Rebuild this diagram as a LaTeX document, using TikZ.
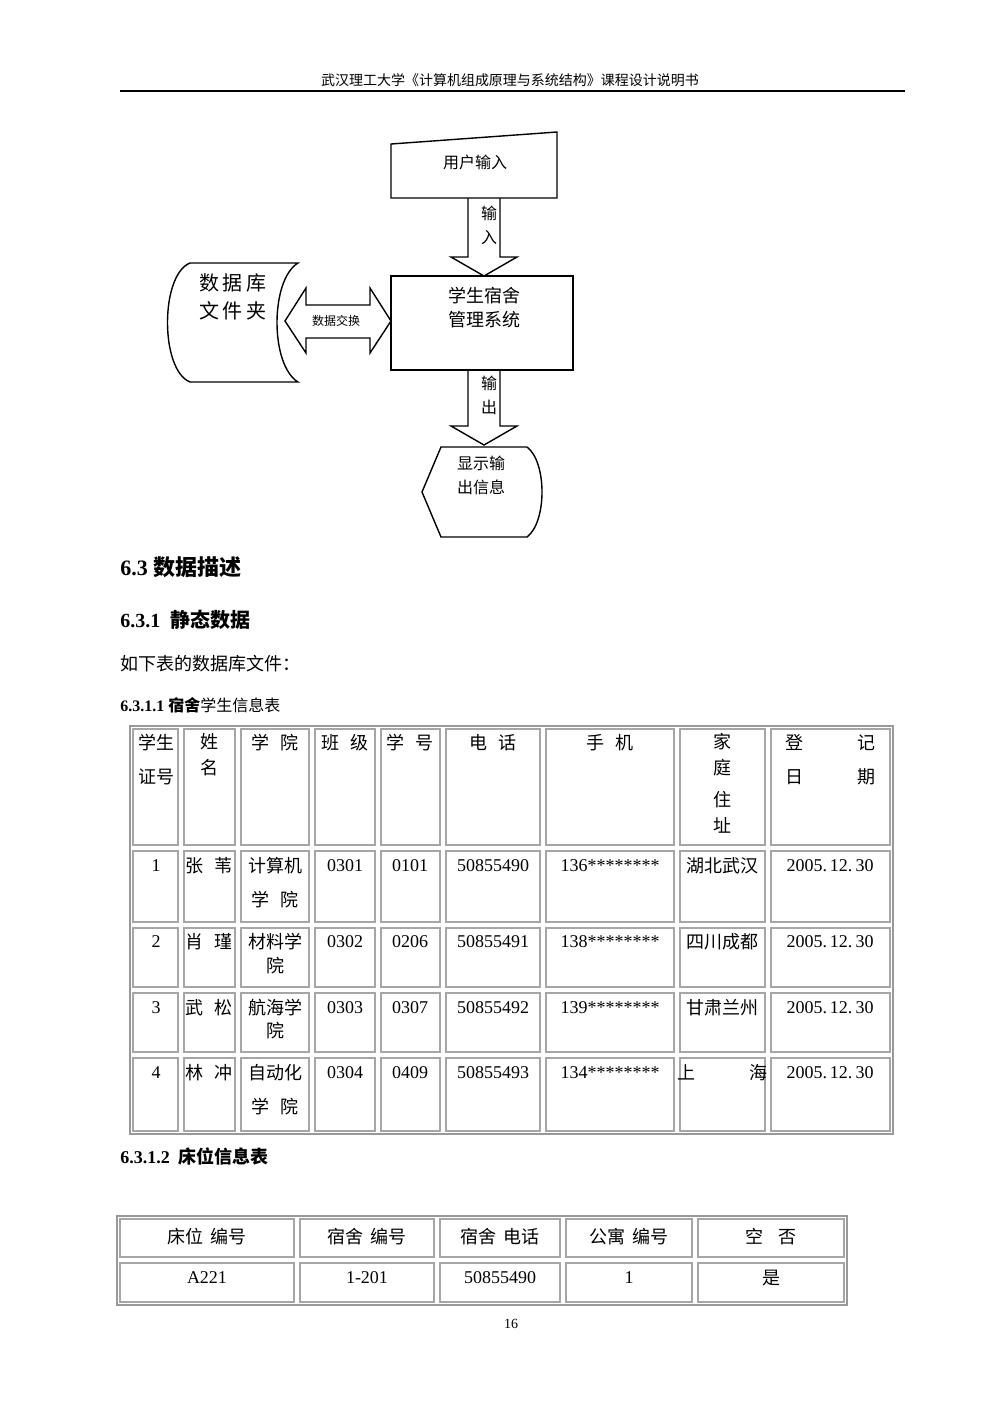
\documentclass[tikz,border=0pt]{standalone}
\usepackage{fontspec}
\setmainfont{Liberation Serif}
\newfontfamily\cjk{Noto Sans CJK SC}
\begin{document}
\begin{tikzpicture}[x=0.5pt,y=-0.5pt,
  shp/.style={draw,line width=0.7pt,line join=miter},
  tx/.style={font=\fontsize{8}{10}\selectfont\cjk,inner sep=0pt},
  tb/.style={font=\fontsize{9}{11}\selectfont\cjk,inner sep=0pt},
  tn/.style={font=\fontsize{9}{11}\selectfont,inner sep=0pt},
  frame/.style={draw=gray!80,line width=1.4pt},
  cell/.style={draw=gray!70,line width=0.6pt}]
\useasboundingbox (0,0) rectangle (1000,1415);
% header
\node[font=\fontsize{7}{9}\selectfont\cjk,inner sep=0pt] (hdr) at (510,80) {武汉理工大学《计算机组成原理与系统结构》课程设计说明书};
\draw[line width=0.8pt] (120,91) -- (905,91);
% flowchart
\draw[shp] (391,144) -- (557,132) -- (557,198) -- (391,198) -- cycle;
\node[tx] (ui) at (475,162) {用户输入};
\draw[shp] (391,276) rectangle (573,370);
\node[tx,font=\fontsize{9}{11}\selectfont\cjk,align=center] (sys) at (484,308) {学生宿舍\\[1pt]管理系统};
\draw[shp] (468,198) -- (468,257) -- (451,257) -- (484,276) -- (517,257) -- (500,257) -- (500,198);
\node[tx,align=center] (in) at (489,225) {输\\[2pt]入};
\draw[shp] (468,370) -- (468,426) -- (451,426) -- (484,445) -- (517,426) -- (500,426) -- (500,370);
\node[tx,align=center] (out) at (489,395) {输\\[2pt]出};
% database
\draw[shp] (298,263) -- (190,263) .. controls (160,275) and (160,370) .. (190,382) -- (298,382)
  .. controls (270,365) and (270,280) .. (298,263) -- cycle;
\node[tx,font=\fontsize{10}{12}\selectfont\cjk,align=left] (db) at (233,297) {数\,据\,库\\[2pt]文\,件\,夹};
% double arrow
\draw[shp] (285,321) -- (306,288) -- (306,305) -- (370,305) -- (370,288) -- (391,321) -- (370,353) -- (370,338) -- (306,338) -- (306,353) -- cycle;
\node[tx,font=\fontsize{6}{7}\selectfont\cjk] (ex) at (336,321) {数据交换};
% display
\draw[shp] (441,447) -- (527,447) .. controls (547,462) and (547,522) .. (527,537) -- (441,537) -- (422,492) -- cycle;
\node[tx,align=left] (disp) at (481,475) {显示输\\[2pt]出信息};
% headings
\node[anchor=west,inner sep=0pt,font=\fontsize{11}{13}\selectfont\bfseries] (h1) at (120,567) {6.3 {\cjk\bfseries 数据描述}};
\node[anchor=west,inner sep=0pt,font=\fontsize{10}{12}\selectfont\bfseries] (h2) at (120,620) {6.3.1\ \ {\cjk\bfseries 静态数据}};
\node[anchor=west,tb] (p1) at (120,664) {如下表的数据库文件：};
\node[anchor=west,inner sep=0pt,font=\fontsize{8}{10}\selectfont] (h3) at (120,705) {\textbf{6.3.1.1 {\cjk\bfseries 宿舍}}{\cjk 学生信息表}};
% table 1
\draw[frame] (130,726) rectangle (893,1134);
\foreach \xa/\xb in {130/181,181/238,238/312,312/378,378/443,443/543,543/677,677/768,768/893}
 \foreach \ya/\yb in {726/848,848/925,925/990,990/1055,1055/1134}
  \draw[cell] (\xa+3,\ya+3) rectangle (\xb-3,\yb-3);
\node[tb,align=center] at (156,760) {学生\\[6pt]证号};
\node[tb,align=center] at (209,755) {姓\\[2pt]名};
\node[tb] at (275,743) {学\hspace{0.6em}院};
\node[tb] at (345,743) {班\hspace{0.6em}级};
\node[tb] at (410,743) {学\hspace{0.6em}号};
\node[tb] at (493,743) {电\hspace{0.6em}话};
\node[tb] at (610,743) {手\hspace{0.6em}机};
\node[tb,align=center] at (722,755) {家\\[2pt]庭};
\node[tb,align=center] at (722,812) {住\\[2pt]址};
\node[tb] at (830,743) {登\hspace{3em}记};
\node[tb] at (830,777) {日\hspace{3em}期};
\foreach \y/\yy/\n/\nm/\ca/\cb/\cls/\sid/\tel/\mob/\addr in
 {866/900/1/张\hspace{0.6em}苇/计算机/学\hspace{0.6em}院/0301/0101/50855490/136/湖北武汉,
  942/966/2/肖\hspace{0.6em}瑾/材料学/院/0302/0206/50855491/138/四川成都,
  1008/1031/3/武\hspace{0.6em}松/航海学/院/0303/0307/50855492/139/甘肃兰州,
  1073/1107/4/林\hspace{0.6em}冲/自动化/学\hspace{0.6em}院/0304/0409/50855493/134/上\hspace{3em}海}{
  \node[tn] at (156,\y) {\n};
  \node[tb] at (209,\y) {\nm};
  \node[tb] at (275,\y) {\ca};
  \node[tb] at (275,\yy) {\cb};
  \node[tn] at (345,\y) {\cls};
  \node[tn] at (410,\y) {\sid};
  \node[tn] at (493,\y) {\tel};
  \node[tn] at (610,\y) {\mob********};
  \node[tb] at (722,\y) {\addr};
  \node[tn] at (830,\y) {2005.\,12.\,30};
}
% 6.3.1.2
\node[anchor=west,inner sep=0pt,font=\fontsize{9}{11}\selectfont\bfseries] (h4) at (120,1157) {6.3.1.2\ \ {\cjk\bfseries 床位信息表}};
\draw[frame] (117,1216) rectangle (847,1305);
\foreach \xa/\xb in {117/297,297/437,437/563,563/695,695/847}
 \foreach \ya/\yb in {1216/1260,1260/1305}
  \draw[cell] (\xa+3,\ya+3) rectangle (\xb-3,\yb-3);
\node[tb] at (207,1237) {床位\hspace{0.4em}编号};
\node[tb] at (367,1237) {宿舍\hspace{0.4em}编号};
\node[tb] at (500,1237) {宿舍\hspace{0.4em}电话};
\node[tb] at (629,1237) {公寓\hspace{0.4em}编号};
\node[tb] at (771,1237) {空\hspace{0.8em}否};
\node[tn] at (207,1278) {A221};
\node[tn] at (367,1278) {1-201};
\node[tn] at (500,1278) {50855490};
\node[tn] at (629,1278) {1};
\node[tb] at (771,1278) {是};
\node[font=\fontsize{7}{9}\selectfont,inner sep=0pt] (pg) at (511,1324) {16};
\end{tikzpicture}
\end{document}
